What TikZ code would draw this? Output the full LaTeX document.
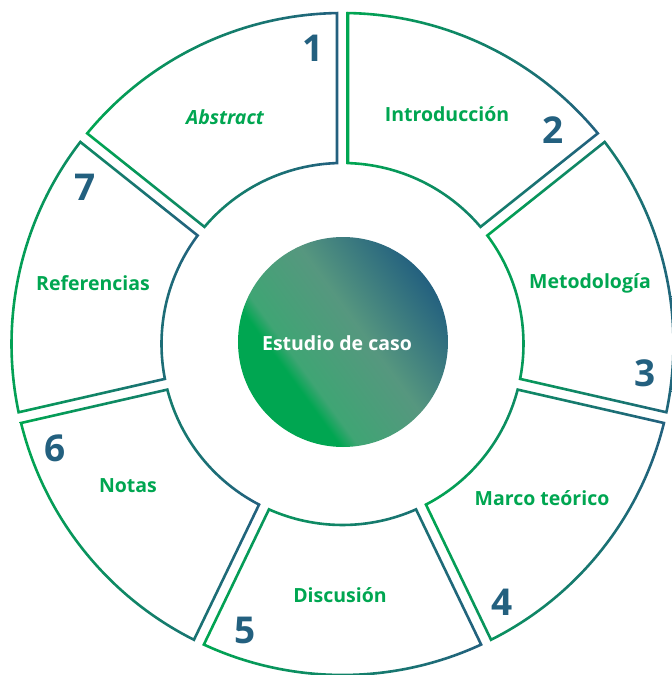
\documentclass[tikz,border=0pt]{standalone}
\usepackage{fontspec}
\setmainfont{Open Sans}
\definecolor{ggreen}{HTML}{00A651}
\definecolor{gblue}{HTML}{23607F}
\definecolor{glight}{HTML}{3FA574}
\definecolor{gmid}{HTML}{56977F}
\pgfdeclarehorizontalshading{discshade}{100bp}{color(0bp)=(ggreen); color(35bp)=(ggreen); color(38.5bp)=(glight); color(55bp)=(gmid); color(75bp)=(gblue); color(100bp)=(gblue)}
\tikzset{
  lbl/.style={text=ggreen, font=\fontsize{19.5}{23}\selectfont\bfseries},
  num/.style={text=gblue, font=\fontsize{37}{40}\selectfont\bfseries},
}
\begin{document}
\begin{tikzpicture}[x=1pt,y=1pt]
\useasboundingbox (-342.5,-331) rectangle (329.5,344);
\def\Rout{331}\def\Rin{181}\def\gap{5.5}\def\lw{2.6}
\foreach \k in {1,...,7}{
  \pgfmathsetmacro\A{90-(\k-1)*360/7}
  \pgfmathsetmacro\B{\A+360/7}
  \pgfmathsetmacro\dA{\gap-\lw/2}
  \pgfmathsetmacro\RA{\Rout+\lw/2}
  \pgfmathsetmacro\rA{\Rin-\lw/2}
  \pgfmathsetmacro\dB{\gap+\lw/2}
  \pgfmathsetmacro\RB{\Rout-\lw/2}
  \pgfmathsetmacro\rB{\Rin+\lw/2}
  \pgfmathsetmacro\oA{asin(\dA/\RA)}
  \pgfmathsetmacro\iA{asin(\dA/\rA)}
  \pgfmathsetmacro\oB{asin(\dB/\RB)}
  \pgfmathsetmacro\iB{asin(\dB/\rB)}
  \shade[even odd rule, left color=ggreen, right color=gblue]
    ({\A+\oA}:\RA) arc[start angle={\A+\oA}, end angle={\B-\oA}, radius=\RA]
    -- ({\B-\iA}:\rA) arc[start angle={\B-\iA}, end angle={\A+\iA}, radius=\rA] -- cycle
    ({\A+\oB}:\RB) arc[start angle={\A+\oB}, end angle={\B-\oB}, radius=\RB]
    -- ({\B-\iB}:\rB) arc[start angle={\B-\iB}, end angle={\A+\iB}, radius=\rB] -- cycle;
}
\shade[shading=discshade, shading angle=36] (0.5,2) circle[radius=105];
\node[text=white, font=\fontsize{19.5}{23}\selectfont\bfseries] (center) at (-5.5,1) {Estudio de caso};
\node[lbl, font=\fontsize{19.5}{23}\selectfont\bfseries\itshape] (l1) at (-117.5,227) {Abstract};
\node[lbl] (l2) at (104.5,230) {Introducción};
\node[lbl] (l3) at (247.5,61) {Metodología};
\node[lbl] (l4) at (199.5,-154) {Marco teórico};
\node[lbl] (l5) at (-2.5,-251) {Discusión};
\node[lbl] (l6) at (-214.5,-142) {Notas};
\node[lbl] (l7) at (-249.5,61) {Referencias};
\node[num] (n1) at (-29.5,296) {1};
\node[num] (n2) at (210.5,214) {2};
\node[num] (n3) at (302.5,-29) {3};
\node[num] (n4) at (159.5,-258) {4};
\node[num] (n5) at (-97.5,-286) {5};
\node[num] (n6) at (-287.5,-104) {6};
\node[num] (n7) at (-257.5,157) {7};
\end{tikzpicture}
\end{document}
